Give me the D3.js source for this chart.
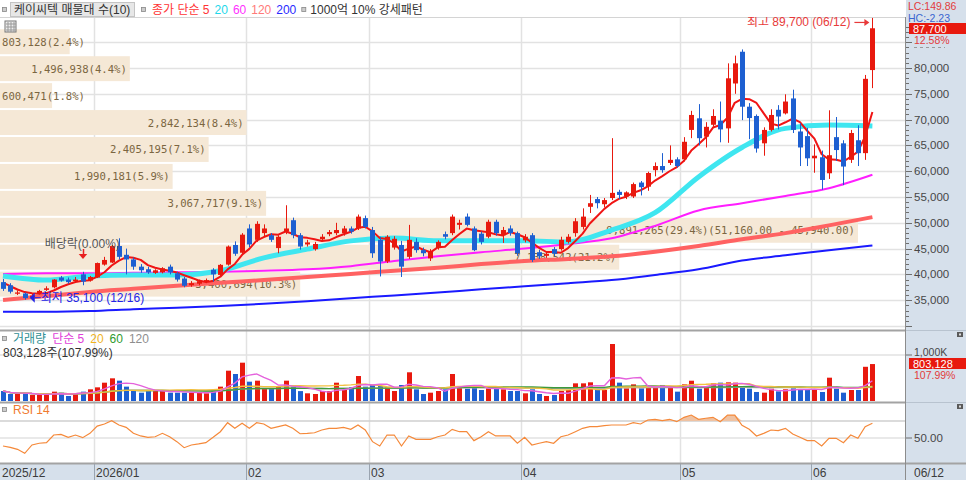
<!DOCTYPE html>
<html>
<head>
<meta charset="utf-8">
<script src="https://cdn.jsdelivr.net/npm/d3@7"></script>
<style>
  body { margin: 0; background: #fff; }
  svg { display: block; }
</style>
</head>
<body>
<div id="chart"></div>
<script>
// Trading days shown
const TRADING_DAYS = [
  ["2025-12", [11, 12, 15, 16, 17, 18, 19, 22, 23, 24, 26, 29, 30]],
  ["2026-01", [2, 5, 6, 7, 8, 9, 12, 13, 14, 15, 16, 19, 20, 21, 22, 23, 26, 27, 28, 29, 30]],
  ["2026-02", [2, 3, 4, 5, 6, 9, 10, 11, 12, 13, 19, 20, 23, 24, 25, 26, 27]],
  ["2026-03", [3, 4, 5, 6, 9, 10, 11, 12, 13, 16, 17, 18, 19, 20, 23, 24, 25, 26, 27, 30, 31]],
  ["2026-04", [1, 2, 3, 6, 7, 8, 9, 10, 13, 14, 15, 16, 17, 20, 21, 22, 23, 24, 27, 28, 29, 30]],
  ["2026-05", [4, 6, 7, 8, 11, 12, 13, 14, 15, 18, 19, 20, 21, 22, 26, 27, 28, 29]],
  ["2026-06", [1, 2, 4, 5, 8, 9, 10, 11, 12]],
];

// Prices (KRW)
const opens = [
  38500, 37900, 36250, 36300, 35600, 36300, 37000, 37500, 39400, 39000, 38700, 40000, 38800,
  39400, 41900, 42300, 45500, 43800, 42900, 41500, 41000, 40300, 40400, 41500, 40200, 39200,
  37900, 38200, 38700, 40900, 39900, 41900, 45700, 44200, 48900, 46700, 48000, 47600, 45100,
  48300, 50500, 47600, 45800, 44900, 46800, 47800, 48000, 48000, 48900, 48900, 50900, 48600,
  46700, 42500, 45200, 45700, 43400, 46300, 44700, 43100, 45100, 47800, 48000, 49600, 51200,
  48900, 47900, 47300, 50200, 47600, 48900, 48000, 46600, 47600, 44300, 43600, 44900, 44900,
  46300, 48000, 49200, 53100, 54600, 53600, 54800, 56000, 55100, 55100, 57800, 57000, 60200,
  61000, 61600, 62300, 62300, 68000, 70250, 66700, 69000, 69800, 68300, 77000, 83150, 72500,
  70700, 65400, 68000, 71900, 71200, 74100, 67700, 66800, 62500, 62700, 59600, 66600, 65400,
  62200, 66000, 63500, 79600,
];
const highs = [
  39100, 38300, 36900, 36500, 36200, 37000, 37700, 39100, 39700, 39400, 39500, 40500, 39700,
  42300, 43400, 45700, 47000, 45000, 43300, 42000, 41500, 41000, 41400, 41900, 40500, 39500,
  38700, 39000, 39200, 41200, 42000, 45600, 46400, 48000, 49700, 50300, 49700, 48000, 47600,
  53400, 51000, 48000, 46700, 46300, 47800, 48600, 50000, 49400, 49300, 51600, 51400, 49200,
  47300, 47600, 47400, 46500, 49600, 47000, 45200, 44900, 46600, 48300, 51600, 50600, 51800,
  49300, 48300, 50600, 50600, 49200, 49500, 48300, 47800, 48000, 44800, 44400, 45300, 47300,
  47800, 50900, 52800, 55400, 55000, 54800, 66400, 56400, 56100, 57800, 58100, 59900, 61700,
  63500, 65000, 62700, 66600, 71700, 73000, 69500, 72000, 73500, 80900, 82400, 83600, 73200,
  71000, 68500, 72000, 72800, 74900, 75800, 69300, 68400, 65200, 64000, 71800, 70500, 66000,
  68000, 68900, 78650, 89700,
];
const lows = [
  36800, 36300, 36000, 35100, 35300, 36100, 36800, 37300, 38600, 38200, 38400, 37900, 38600,
  39300, 41700, 42200, 42900, 40000, 40900, 40300, 40100, 40100, 40200, 40000, 38600, 37500,
  37600, 37900, 38300, 38600, 39700, 41700, 43600, 44000, 45300, 46300, 47300, 46300, 44100,
  47800, 47000, 44800, 45400, 44600, 46400, 47400, 47600, 47500, 47900, 48600, 48900, 43200,
  39600, 42200, 44800, 39500, 43000, 44200, 43500, 42600, 44800, 46800, 47600, 48700, 49300,
  44500, 45800, 47000, 47500, 46100, 47500, 43600, 46200, 42400, 43000, 43200, 43500, 44600,
  46000, 47300, 48700, 51900, 52800, 53000, 54400, 54600, 54600, 54800, 55300, 56200, 59000,
  59700, 61200, 60700, 61900, 66400, 65000, 64600, 68600, 65600, 65500, 75000, 69900, 66200,
  63600, 63000, 67700, 68100, 71000, 67400, 61000, 61000, 59700, 56400, 58500, 62000, 57300,
  61600, 61000, 62200, 76100,
];
const closes = [
  37200, 36650, 36500, 35400, 35900, 36800, 37300, 39000, 38800, 38500, 39000, 38600, 39500,
  42200, 42800, 45500, 43400, 42900, 41500, 40800, 40400, 40800, 41200, 40400, 39000, 37800,
  38300, 38700, 38900, 40000, 41850, 45400, 44000, 47700, 45800, 49800, 48900, 46700, 47300,
  48900, 47600, 45400, 46200, 45900, 47300, 48200, 48600, 48900, 48300, 51200, 49200, 44100,
  42500, 47300, 46900, 41500, 46700, 44700, 44100, 44400, 46300, 47300, 51200, 50000, 49600,
  44700, 46300, 50200, 48000, 48600, 48000, 44100, 47300, 42800, 43500, 44000, 44000, 46700,
  47300, 50300, 51200, 53800, 53800, 54400, 55800, 55400, 55900, 57500, 56900, 59650, 61000,
  60200, 62200, 61000, 65700, 70900, 66400, 68600, 70700, 68100, 78000, 80900, 72500, 70300,
  64400, 68000, 70900, 70600, 73500, 68000, 64600, 62500, 63000, 58300, 63100, 64100, 60900,
  67400, 63500, 77900, 87700,
];
// four closes before the first visible day (for the 5-day average)
const priorCloses = [40100, 39700, 37900, 37100];

// Longer moving averages at these day indexes
const MA_AT = [0, 6, 12, 18, 24, 30, 36, 42, 48, 54, 60, 66, 72, 78, 84, 90, 96, 102, 108, 114, 120];
const ma20 = [39700, 38900, 39700, 39900, 39900, 40700, 43200, 44900, 46500, 47050, 46500,
  46500, 46500, 46300, 48600, 51950, 58900, 64600, 68300, 68950, 68750];
const ma60 = [40100, 40200, 40200, 40300, 40400, 40500, 40700, 41000, 41600, 42600, 43500,
  44300, 45000, 45900, 47000, 49400, 52400, 53800, 55200, 56700, 59300];
const ma120 = [35040, 35800, 36600, 37200, 37800, 38400, 38900, 39500, 40100, 40700, 41300,
  42000, 42600, 43000, 43500, 44400, 45500, 46800, 48000, 49500, 51100];
const ma200 = [32770, 32770, 32900, 33250, 33550, 33900, 34300, 34800, 35400, 35900, 36500,
  37100, 37700, 38300, 38900, 39900, 41000, 42700, 43700, 44700, 45600];

// Volume (shares)
const volumes = [
  217000, 152000, 152000, 167000, 130000, 138000, 130000, 203000, 181000, 109000, 167000, 203000, 254000,
  297000, 398000, 493000, 442000, 312000, 239000, 181000, 225000, 225000, 225000, 181000, 181000, 181000,
  181000, 181000, 167000, 225000, 312000, 659000, 587000, 833000, 420000, 442000, 275000, 275000, 312000,
  442000, 312000, 215000, 167000, 152000, 217000, 217000, 398000, 239000, 297000, 543000, 312000, 348000,
  326000, 297000, 217000, 348000, 624000, 254000, 152000, 181000, 217000, 254000, 587000, 297000, 268000,
  297000, 239000, 275000, 275000, 254000, 217000, 217000, 167000, 254000, 152000, 109000, 130000, 217000,
  239000, 384000, 384000, 406000, 239000, 239000, 1239000, 399000, 275000, 362000, 275000, 312000, 297000,
  348000, 297000, 203000, 362000, 441000, 268000, 283000, 384000, 399000, 406000, 399000, 326000, 268000,
  196000, 181000, 268000, 210000, 254000, 275000, 254000, 254000, 254000, 196000, 507000, 268000, 181000,
  239000, 239000, 743700, 803128,
];

// RSI 14
const rsi14 = [
  40.6, 39.0, 36.7, 32.0, 41.8, 43.8, 44.5, 53.5, 54.3, 50.8, 53.5, 50.4, 55.5,
  64.0, 66.5, 70.4, 65.3, 62.5, 55.5, 52.4, 50.8, 51.5, 55.5, 51.5, 45.7, 38.6,
  41.8, 43.0, 44.5, 50.8, 57.4, 68.0, 61.4, 67.3, 61.4, 68.0, 66.5, 61.4, 63.3,
  65.3, 61.4, 55.0, 55.5, 56.2, 59.4, 61.4, 61.4, 62.5, 60.2, 65.3, 59.4, 45.7,
  40.6, 53.5, 53.5, 40.6, 52.4, 48.4, 48.4, 48.4, 51.5, 53.5, 60.2, 57.4, 57.4,
  46.9, 51.5, 57.4, 52.4, 52.4, 52.4, 43.8, 50.8, 41.8, 43.8, 45.7, 43.8, 51.5,
  53.5, 57.4, 61.4, 63.3, 63.3, 64.5, 65.3, 65.3, 65.3, 68.0, 66.5, 71.2, 72.0,
  70.4, 72.0, 69.2, 74.3, 77.0, 72.0, 73.2, 74.3, 69.2, 77.0, 77.0, 65.0, 60.2,
  52.4, 55.5, 59.4, 58.6, 61.4, 54.7, 50.8, 46.9, 46.9, 40.6, 49.6, 49.6, 44.5,
  53.5, 49.6, 63.3, 67.3,
];

// Volume profile (매물대), bottom band first
const profileVol = [3460694, 7138542, 9891265, 3067717, 1990181, 2405195, 2842134, 600471, 1496938, 803128];
const profilePct = ["10.3", "21.2", "29.4", "9.1", "5.9", "7.1", "8.4", "1.8", "4.4", "2.4"];
const PROFILE_LOW = 35500;
const PROFILE_STEP = 5220;

// Month labels on the date axis
const monthLabels = [
  { date: "2025-12-11", text: "2025/12", edge: false },
  { date: "2026-01-02", text: "2026/01", edge: true },
  { date: "2026-02-02", text: "02", edge: true },
  { date: "2026-03-03", text: "03", edge: true },
  { date: "2026-04-01", text: "04", edge: true },
  { date: "2026-05-04", text: "05", edge: true },
  { date: "2026-06-01", text: "06", edge: true },
];

// Colors
const UP = "#e8190e";
const DOWN = "#1d5fd1";
const GRID = "#e2e2e2";
const AXIS_BG = "#d6e0eb";
const SANS = "'Liberation Sans', 'Noto Sans CJK KR', sans-serif";

// Sizes
const WIDTH = 966;
const HEIGHT = 480;
const PLOT_R = 905;
const STEP = 7.245;

// Build the dates
const dates = [];
TRADING_DAYS.forEach(([ym, days]) =>
  days.forEach((d) => dates.push(ym + "-" + String(d).padStart(2, "0")))
);

const candles = dates.map((d, i) => ({
  date: d, o: opens[i], h: highs[i], l: lows[i], c: closes[i], v: volumes[i], rsi: rsi14[i],
}));

// Scales
const x = d3.scaleBand().domain(dates).range([-0.62, -0.62 + dates.length * STEP]);
const cx = (d) => x(d) + x.bandwidth() / 2;
const yP = d3.scaleLinear().domain([30000, 90000]).range([326, 16.4]);
const yV = d3.scaleLinear().domain([0, 1000000]).range([401, 355]);
const yR = d3.scaleLinear().domain([50, 70]).range([438, 421]);

const colorOf = (d) => (d.c >= d.o ? UP : DOWN);

// SVG
const svg = d3
  .select("#chart")
  .append("svg")
  .attr("width", WIDTH)
  .attr("height", HEIGHT)
  .style("font-family", SANS);

svg.append("rect").attr("width", WIDTH).attr("height", HEIGHT).attr("fill", "#fff");

// Clip paths for the three panels
const defs = svg.append("defs");
defs.append("clipPath").attr("id", "clip-price")
  .append("rect").attr("x", 0).attr("y", 17).attr("width", PLOT_R).attr("height", 312);
defs.append("clipPath").attr("id", "clip-vol")
  .append("rect").attr("x", 0).attr("y", 332).attr("width", PLOT_R).attr("height", 70);
defs.append("clipPath").attr("id", "clip-rsi")
  .append("rect").attr("x", 0).attr("y", 404).attr("width", PLOT_R).attr("height", 58);

/* ---------- grid ---------- */
const grid = svg.append("g");

// price grid every 5,000
grid.selectAll()
  .data(d3.range(30000, 90000, 5000))
  .enter()
  .append("line")
  .attr("x1", 0).attr("x2", PLOT_R)
  .attr("y1", (d) => Math.round(yP(d)) + 0.5)
  .attr("y2", (d) => Math.round(yP(d)) + 0.5)
  .attr("stroke", GRID).attr("stroke-width", 1.5);

grid.append("line").attr("x1", 0).attr("x2", PLOT_R).attr("y1", 17.5).attr("y2", 17.5)
  .attr("stroke", "#d4d4d4");

// month lines through all panels
const monthEdges = monthLabels.filter((m) => m.edge);
grid.selectAll()
  .data(monthEdges)
  .enter()
  .append("line")
  .attr("x1", (d) => Math.round(x(d.date)) + 0.5)
  .attr("x2", (d) => Math.round(x(d.date)) + 0.5)
  .attr("y1", 18).attr("y2", 463)
  .attr("stroke", GRID).attr("stroke-width", 1.5);

// volume and rsi grid
grid.append("line").attr("x1", 0).attr("x2", PLOT_R).attr("y1", yV(1000000)).attr("y2", yV(1000000))
  .attr("stroke", GRID).attr("stroke-width", 1.5);
grid.append("line").attr("x1", 0).attr("x2", PLOT_R).attr("y1", yR(70)).attr("y2", yR(70))
  .attr("stroke", "#cfcfcf").attr("stroke-width", 1.5);
grid.append("line").attr("x1", 0).attr("x2", PLOT_R).attr("y1", yR(50)).attr("y2", yR(50))
  .attr("stroke", GRID).attr("stroke-width", 1.5);

/* ---------- price panel ---------- */
const price = svg.append("g").attr("clip-path", "url(#clip-price)");

// Volume profile bars
const profX = d3.scaleLinear().domain([0, d3.max(profileVol)]).range([0, 858]);
const maxBand = profileVol.indexOf(d3.max(profileVol));
const bands = profileVol.map((v, k) => {
  const lo = PROFILE_LOW + k * PROFILE_STEP;
  const hi = lo + PROFILE_STEP;
  let label = d3.format(",")(v) + "(" + profilePct[k] + "%)";
  if (k === maxBand) label += "(" + d3.format(",.2f")(hi) + " - " + d3.format(",.2f")(lo) + ")";
  return { lo, hi, v, label };
});

price.selectAll()
  .data(bands)
  .enter()
  .append("rect")
  .attr("x", 0)
  .attr("y", (d) => yP(d.hi) + 1)
  .attr("width", (d) => profX(d.v))
  .attr("height", (d) => yP(d.lo) - yP(d.hi) - 2)
  .attr("fill", "#f5e8d6");

const bandText = price.selectAll()
  .data(bands)
  .enter()
  .append("text")
  .attr("y", (d) => (yP(d.lo) + yP(d.hi)) / 2 + 4)
  .attr("fill", "#7b6641")
  .style("font-family", "'DejaVu Sans Mono', monospace")
  .style("font-size", "10.6px")
  .text((d) => d.label);

bandText.each(function (d) {
  const w = this.getComputedTextLength();
  const end = profX(d.v) - 3;
  if (end - w < 2) d3.select(this).attr("x", 2).attr("text-anchor", "start");
  else d3.select(this).attr("x", end).attr("text-anchor", "end");
});

// Moving averages
const allCloses = priorCloses.concat(closes);
const ma5 = closes.map((c, i) => d3.mean(allCloses.slice(i, i + 5)));

const maLine = d3.line()
  .x((d) => cx(dates[d[0]]))
  .y((d) => yP(d[1]))
  .curve(d3.curveMonotoneX);

const MAS = [
  { vals: ma200, color: "#1a1aff", w: 2 },
  { vals: ma120, color: "#ff6262", w: 4 },
  { vals: ma60, color: "#ff1eff", w: 2 },
  { vals: ma20, color: "#3fe6f0", w: 5 },
];
MAS.forEach((m) => {
  price.append("path")
    .datum(MA_AT.map((idx, k) => [idx, m.vals[k]]))
    .attr("d", maLine)
    .attr("fill", "none")
    .attr("stroke", m.color)
    .attr("stroke-width", m.w)
    .attr("stroke-linejoin", "round");
});

price.append("path")
  .datum(ma5.map((v, i) => [i, v]))
  .attr("d", d3.line().x((d) => cx(dates[d[0]])).y((d) => yP(d[1])))
  .attr("fill", "none")
  .attr("stroke", "#f01414")
  .attr("stroke-width", 2)
  .attr("stroke-linejoin", "round");

// Candles
price.selectAll()
  .data(candles)
  .enter()
  .append("line")
  .attr("x1", (d) => Math.round(cx(d.date)) + 0.5)
  .attr("x2", (d) => Math.round(cx(d.date)) + 0.5)
  .attr("y1", (d) => yP(d.h))
  .attr("y2", (d) => yP(d.l))
  .attr("stroke", colorOf)
  .attr("stroke-width", 1);

price.selectAll()
  .data(candles)
  .enter()
  .append("rect")
  .attr("x", (d) => Math.round(cx(d.date)) - 2)
  .attr("width", 5)
  .attr("y", (d) => yP(Math.max(d.o, d.c)))
  .attr("height", (d) => Math.max(1, Math.abs(yP(d.o) - yP(d.c))))
  .attr("fill", colorOf);

// High / low notes
const hiDay = candles[d3.maxIndex(candles, (d) => d.h)];
const loDay = candles[d3.minIndex(candles, (d) => d.l)];
const md = (s) => s.slice(5, 7) + "/" + s.slice(8, 10);

price.append("text")
  .attr("x", cx(hiDay.date) - 22).attr("y", yP(hiDay.h) + 8)
  .attr("text-anchor", "end").attr("fill", "#e83a3a").style("font-size", "12px")
  .text("최고 " + d3.format(",")(hiDay.h) + " (" + md(hiDay.date) + ")");
price.append("line")
  .attr("x1", cx(hiDay.date) - 18).attr("x2", cx(hiDay.date) - 5)
  .attr("y1", yP(hiDay.h) + 4.5).attr("y2", yP(hiDay.h) + 4.5)
  .attr("stroke", "#e83a3a").attr("stroke-width", 1.2);
price.append("path")
  .attr("d", d3.line()([
    [cx(hiDay.date) - 3, yP(hiDay.h) + 4.5],
    [cx(hiDay.date) - 8, yP(hiDay.h) + 1],
    [cx(hiDay.date) - 8, yP(hiDay.h) + 8],
  ]))
  .attr("fill", "#e83a3a");

const lx = cx(loDay.date) + 5;
const ly = yP(loDay.l) - 2;
price.append("path")
  .attr("d", d3.line()([[lx, ly], [lx + 5, ly - 5], [lx + 5, ly + 5]]))
  .attr("fill", "#2424e6");
price.append("line").attr("x1", lx + 5).attr("x2", lx + 11).attr("y1", ly).attr("y2", ly)
  .attr("stroke", "#2424e6");
price.append("text")
  .attr("x", lx + 11).attr("y", ly + 4.5)
  .attr("fill", "#2424e6").style("font-size", "12px")
  .text("최저 " + d3.format(",")(loDay.l) + " (" + md(loDay.date) + ")");

// Ex-dividend marker
const exDay = "2025-12-29";
price.append("text")
  .attr("x", cx(exDay) - 38).attr("y", 248)
  .attr("fill", "#555").style("font-size", "12px")
  .text("배당락(0.00%)");
price.append("line")
  .attr("x1", Math.round(cx(exDay)) + 0.5).attr("x2", Math.round(cx(exDay)) + 0.5)
  .attr("y1", 249).attr("y2", 255)
  .attr("stroke", "#e82020").attr("stroke-width", 1.5);
price.append("path")
  .attr("d", d3.line()([
    [cx(exDay) - 4, 254], [cx(exDay) + 4.5, 254], [cx(exDay) + 0.3, 259],
  ]))
  .attr("fill", "#e82020");

// small table icon
const icon = svg.append("g").attr("transform", "translate(5,21)");
icon.append("rect").attr("width", 11).attr("height", 11).attr("fill", "#eee").attr("stroke", "#777");
[3, 6, 9].forEach((p) => {
  icon.append("line").attr("x1", p).attr("x2", p).attr("y1", 1).attr("y2", 11).attr("stroke", "#999");
  icon.append("line").attr("x1", 1).attr("x2", 11).attr("y1", p).attr("y2", p).attr("stroke", "#999");
});

/* ---------- volume panel ---------- */
const vol = svg.append("g").attr("clip-path", "url(#clip-vol)");

vol.selectAll()
  .data(candles)
  .enter()
  .append("rect")
  .attr("x", (d) => Math.round(cx(d.date)) - 2)
  .attr("width", 5)
  .attr("y", (d) => yV(d.v))
  .attr("height", (d) => yV(0) - yV(d.v))
  .attr("fill", colorOf);

const volMa = (n) => volumes.map((v, i) => d3.mean(volumes.slice(Math.max(0, i - n + 1), i + 1)));
const VOL_MAS = [
  { n: 120, color: "#a8a8a8" },
  { n: 60, color: "#3c9a3c" },
  { n: 20, color: "#f2c040" },
  { n: 5, color: "#e462dc" },
];
VOL_MAS.forEach((m) => {
  vol.append("path")
    .datum(volMa(m.n))
    .attr("d", d3.line().x((d, i) => cx(dates[i])).y((d) => yV(d)))
    .attr("fill", "none")
    .attr("stroke", m.color)
    .attr("stroke-width", 1.4);
});

/* ---------- RSI panel ---------- */
const rsiG = svg.append("g").attr("clip-path", "url(#clip-rsi)");

rsiG.append("path")
  .datum(candles)
  .attr("d", d3.area().x((d) => cx(d.date)).y0(yR(70)).y1((d) => yR(Math.max(70, d.rsi))))
  .attr("fill", "#efc2a2");

rsiG.append("path")
  .datum(candles)
  .attr("d", d3.line().x((d) => cx(d.date)).y((d) => yR(d.rsi)))
  .attr("fill", "none")
  .attr("stroke", "#f5893a")
  .attr("stroke-width", 1.2);

/* ---------- frames and axes ---------- */
const frame = svg.append("g");

frame.append("rect").attr("x", 906).attr("y", 0).attr("width", 60).attr("height", 464).attr("fill", AXIS_BG);
frame.append("rect").attr("x", 0).attr("y", 464).attr("width", WIDTH).attr("height", 16).attr("fill", AXIS_BG);

[330.5, 402.5].forEach((yy) => {
  frame.append("line").attr("x1", 0).attr("x2", 906).attr("y1", yy).attr("y2", yy)
    .attr("stroke", "#a3a3a3").attr("stroke-width", 2);
  frame.append("line").attr("x1", 906).attr("x2", WIDTH).attr("y1", yy).attr("y2", yy)
    .attr("stroke", "#b8c3cf").attr("stroke-width", 1);
});
frame.append("line").attr("x1", 0).attr("x2", WIDTH).attr("y1", 463.5).attr("y2", 463.5)
  .attr("stroke", "#a3a3a3").attr("stroke-width", 2);
frame.append("line").attr("x1", 905.5).attr("x2", 905.5).attr("y1", 17).attr("y2", HEIGHT)
  .attr("stroke", "#8c8c8c");

// price axis ticks
frame.selectAll()
  .data(d3.range(30000, 88001, 1000))
  .enter()
  .append("line")
  .attr("x1", 906)
  .attr("x2", (d) => (d % 5000 === 0 ? 912 : 909))
  .attr("y1", (d) => Math.round(yP(d)) + 0.5)
  .attr("y2", (d) => Math.round(yP(d)) + 0.5)
  .attr("stroke", "#6e6e6e");

frame.selectAll()
  .data(d3.range(35000, 80001, 5000))
  .enter()
  .append("text")
  .attr("x", 914)
  .attr("y", (d) => yP(d) + 4)
  .attr("fill", "#474747")
  .style("font-size", "11.5px")
  .text((d) => d3.format(",")(d));

// current price box
const last = candles[candles.length - 1];
const prev = candles[candles.length - 2];
frame.append("text").attr("x", 908).attr("y", 10).attr("fill", "#e23c3c").style("font-size", "10.5px").text("LC:149.86");
frame.append("text").attr("x", 908).attr("y", 21.5).attr("fill", "#3a66d0").style("font-size", "10.5px").text("HC:-2.23");
frame.append("rect").attr("x", 909).attr("y", 23).attr("width", 57).attr("height", 11).attr("fill", UP);
frame.append("text").attr("x", 913).attr("y", 32.5).attr("fill", "#fff").style("font-size", "11px")
  .text(d3.format(",")(last.c));
frame.append("text").attr("x", 914).attr("y", 44).attr("fill", "#e23c3c").style("font-size", "10.5px")
  .text(d3.format(".2f")((last.c / prev.c - 1) * 100) + "%");
frame.append("line").attr("x1", 914).attr("x2", 945).attr("y1", 47.5).attr("y2", 47.5)
  .attr("stroke", "#9a9a9a").attr("stroke-dasharray", "3,3");

// volume axis
frame.append("line").attr("x1", 906).attr("x2", 912).attr("y1", yV(1000000)).attr("y2", yV(1000000)).attr("stroke", "#6e6e6e");
frame.append("text").attr("x", 914).attr("y", 355.5).attr("fill", "#474747").style("font-size", "10.5px").text("1,000K");
frame.append("rect").attr("x", 909).attr("y", 358).attr("width", 57).attr("height", 11).attr("fill", UP);
frame.append("text").attr("x", 913).attr("y", 367.5).attr("fill", "#fff").style("font-size", "11px")
  .text(d3.format(",")(last.v));
frame.append("text").attr("x", 914).attr("y", 379).attr("fill", "#e23c3c").style("font-size", "10.5px")
  .text(d3.format(".2f")((last.v / prev.v) * 100) + "%");

// rsi axis
frame.append("line").attr("x1", 906).attr("x2", 912).attr("y1", yR(50)).attr("y2", yR(50)).attr("stroke", "#6e6e6e");
frame.append("text").attr("x", 914).attr("y", yR(50) + 4).attr("fill", "#474747").style("font-size", "11.5px").text("50.00");

// panel icons
[332, 404].forEach((yy) => {
  frame.append("rect").attr("x", 957).attr("y", yy).attr("width", 6).attr("height", 5).attr("fill", "#5a5a5a");
  frame.append("rect").attr("x", 959).attr("y", yy + 1.5).attr("width", 2).attr("height", 2).attr("fill", "#ddd");
});

// date axis
frame.selectAll()
  .data(monthEdges)
  .enter()
  .append("line")
  .attr("x1", (d) => Math.round(x(d.date)) + 0.5)
  .attr("x2", (d) => Math.round(x(d.date)) + 0.5)
  .attr("y1", 464).attr("y2", HEIGHT)
  .attr("stroke", "#9aa4b0");
frame.selectAll()
  .data(monthLabels)
  .enter()
  .append("text")
  .attr("x", (d) => (d.edge ? Math.round(x(d.date)) + 2 : 2))
  .attr("y", 477)
  .attr("fill", "#3c3c3c")
  .style("font-size", "12px")
  .text((d) => d.text);
frame.append("text").attr("x", 914).attr("y", 477).attr("fill", "#3c3c3c").style("font-size", "12px")
  .text(md(last.date));

/* ---------- legends ---------- */
const legend = svg.append("g").style("font-size", "12px");

const marker = (g, x0, y0) =>
  g.append("rect").attr("x", x0).attr("y", y0).attr("width", 4).attr("height", 4)
    .attr("fill", "#ccc").attr("stroke", "#888").attr("stroke-width", 0.8);

// writes keys one after another, returns the x where the next one would go
const keyRow = (keys, x0, y0, gap) => {
  let xx = x0;
  keys.forEach((k) => {
    const t = legend.append("text").attr("x", xx).attr("y", y0).attr("fill", k.c).text(k.t);
    xx += t.node().getComputedTextLength() + gap;
  });
  return xx;
};

marker(legend, 2.5, 7.5);
legend.append("rect").attr("x", 10.5).attr("y", 2.5).attr("width", 124).attr("height", 14)
  .attr("fill", "#e7e7e7").attr("stroke", "#c4c4c4");
legend.append("text").attr("x", 14).attr("y", 14).attr("fill", "#333").text("케이씨텍 매물대 수(10)");
marker(legend, 141.5, 7.5);

const priceKeys = [
  { t: "종가 단순 5", c: "#ff3434" },
  { t: "20", c: "#1ed8ea" },
  { t: "60", c: "#ff30ff" },
  { t: "120", c: "#ff7a7a" },
  { t: "200", c: "#2a2aff" },
];
const nextX = keyRow(priceKeys, 152, 14, 5);
marker(legend, nextX + 0.5, 7.5);
legend.append("text").attr("x", nextX + 9).attr("y", 14).attr("fill", "#333").text("1000억 10% 강세패턴");

marker(legend, 2.5, 336.5);
const volKeys = [
  { t: "거래량", c: "#2f8f94" },
  { t: "단순 5", c: "#e040d8" },
  { t: "20", c: "#f0b41e" },
  { t: "60", c: "#2e9a2e" },
  { t: "120", c: "#8e8e8e" },
];
keyRow(volKeys, 13, 343, 6);
legend.append("text").attr("x", 3).attr("y", 356.5).attr("fill", "#333")
  .text(d3.format(",")(last.v) + "주(" + d3.format(".2f")((last.v / prev.v) * 100) + "%)");

marker(legend, 2.5, 407.5);
legend.append("text").attr("x", 13).attr("y", 414).attr("fill", "#f07a30").text("RSI 14");
</script>
</body>
</html>
